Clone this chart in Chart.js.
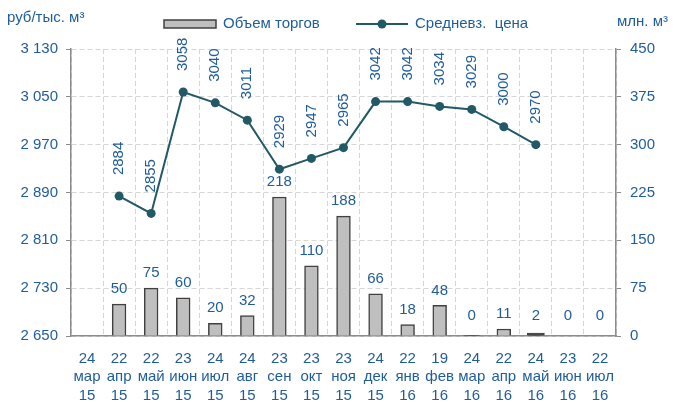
<!DOCTYPE html>
<html>
<head>
<meta charset="utf-8">
<script src="https://cdn.jsdelivr.net/npm/chart.js@4.4.1/dist/chart.umd.min.js"></script>
<style>
html,body{margin:0;padding:0;background:#fff;}
#wrap{width:675px;height:403px;position:relative;}
</style>
</head>
<body>
<div id="wrap"><canvas id="c" width="675" height="403"></canvas></div>
<script>
const days = ["24","22","22","23","24","24","23","23","23","24","22","19","24","22","24","23","22"];
const months = ["мар","апр","май","июн","июл","авг","сен","окт","ноя","дек","янв","фев","мар","апр","май","июн","июл"];
const years = ["15","15","15","15","15","15","15","15","15","15","16","16","16","16","16","16","16"];
const volume = [null,50,75,60,20,32,218,110,188,66,18,48,0.4,11,2,0,0];
const price = [null,2884,2855,3058,3040,3011,2929,2947,2965,3042,3042,3034,3029,3000,2970,null,null];
const leftTicks = {min:2650,max:3130,step:80};
const rightTicks = {min:0,max:450,step:75};
const volumeName = "Объем торгов";
const priceName = "Средневз.  цена";
const leftTitle = "руб/тыс. м³";
const rightTitle = "млн. м³";

const labels = days.map((d,i)=>[d,months[i],years[i]]);
const BLUE = "#1f5c9a";
const LINE = "#215967";
const BARFILL = "#bfbfbf";
const BAREDGE = "#404040";
const GRID = "#d6d6d6";
const AXIS = "#8c8c8c";
const FONT = "'Liberation Sans', Arial, sans-serif";
const FS = 15;

function fmt(v){
  const s = String(Math.round(v));
  return s.replace(/\B(?=(\d{3})+(?!\d))/g," ");
}
function tiny(ctx){
  const v = ctx.raw;
  return v !== null && v !== undefined && v > 0 && v < 3;
}

const labelPlugin = {
  id:'labelsAndLegend',
  afterDatasetsDraw(chart){
    const ctx = chart.ctx;
    ctx.save();
    ctx.fillStyle = BLUE;
    ctx.font = FS + "px " + FONT;
    const base = chart.scales.y1.getPixelForValue(0);
    const bm = chart.getDatasetMeta(0);
    bm.data.forEach((el,i)=>{
      const v = volume[i];
      if(v===null||v===undefined) return;
      ctx.textAlign='center';
      ctx.textBaseline='middle';
      const y = Math.min(el.y - 15, base - 20);
      ctx.fillText(String(Math.round(v)), el.x, y);
    });
    const lm = chart.getDatasetMeta(1);
    lm.data.forEach((el,i)=>{
      const v = price[i];
      if(v===null||v===undefined) return;
      ctx.save();
      ctx.translate(el.x, el.y-21);
      ctx.rotate(-Math.PI/2);
      ctx.textAlign='left';
      ctx.textBaseline='middle';
      ctx.fillText(String(v),0,0);
      ctx.restore();
    });
    ctx.textBaseline='middle';
    ctx.textAlign='left';
    ctx.fillText(leftTitle, 7, 18);
    ctx.fillText(rightTitle, 617, 22);
    ctx.fillStyle=BARFILL;
    ctx.strokeStyle=BAREDGE;
    ctx.lineWidth=1.5;
    ctx.fillRect(164,20,52,8);
    ctx.strokeRect(164,20,52,8);
    ctx.fillStyle=BLUE;
    ctx.fillText(volumeName, 223, 24);
    ctx.strokeStyle=LINE;
    ctx.lineWidth=2;
    ctx.beginPath();ctx.moveTo(356,24);ctx.lineTo(408,24);ctx.stroke();
    ctx.fillStyle=LINE;
    ctx.beginPath();ctx.arc(382,24,4.5,0,Math.PI*2);ctx.fill();
    ctx.fillStyle=BLUE;
    ctx.fillText(priceName, 415, 24);
    ctx.restore();
  }
};

new Chart(document.getElementById('c'),{
  type:'bar',
  data:{
    labels:labels,
    datasets:[
      {type:'bar',label:volumeName,data:volume,yAxisID:'y1',
        backgroundColor:(c)=>tiny(c)?'#4a4a4a':BARFILL,
        inflateAmount:(c)=>tiny(c)?2:0.33,
        borderColor:BAREDGE,borderWidth:1.5,barPercentage:0.43,categoryPercentage:1,order:1},
      {type:'line',label:priceName,data:price,yAxisID:'y',borderColor:LINE,backgroundColor:LINE,borderWidth:2,pointRadius:4.5,pointBackgroundColor:LINE,pointBorderWidth:0,tension:0,spanGaps:false,order:0}
    ]
  },
  options:{
    responsive:false,
    animation:false,
    layout:{padding:{top:49,left:0,right:0,bottom:0}},
    plugins:{legend:{display:false},tooltip:{enabled:false}},
    scales:{
      x:{
        offset:true,
        grid:{display:true,color:GRID,lineWidth:1,drawTicks:false,offset:true},
        border:{display:true,color:AXIS,width:1.5,dash:[5,3]},
        ticks:{color:BLUE,font:{family:FONT,size:FS,lineHeight:1.25},maxRotation:0,minRotation:0,autoSkip:false,padding:13},
        afterFit(s){s.height=67;}
      },
      y:{
        position:'left',
        min:leftTicks.min,max:leftTicks.max,
        grid:{color:GRID,lineWidth:1,tickLength:5,tickColor:AXIS},
        border:{display:true,color:AXIS,width:1.5,dash:[5,3]},
        ticks:{stepSize:leftTicks.step,color:BLUE,font:{family:FONT,size:FS},padding:8,callback:(v)=>fmt(v)},
        afterFit(s){s.width=71;}
      },
      y1:{
        position:'right',
        min:rightTicks.min,max:rightTicks.max,
        grid:{drawOnChartArea:false,tickLength:5,tickColor:AXIS},
        border:{display:true,color:AXIS,width:1.5},
        ticks:{stepSize:rightTicks.step,color:BLUE,font:{family:FONT,size:FS},padding:9,callback:(v)=>String(v)},
        afterFit(s){s.width=59;}
      }
    }
  },
  plugins:[labelPlugin]
});
</script>
</body>
</html>
